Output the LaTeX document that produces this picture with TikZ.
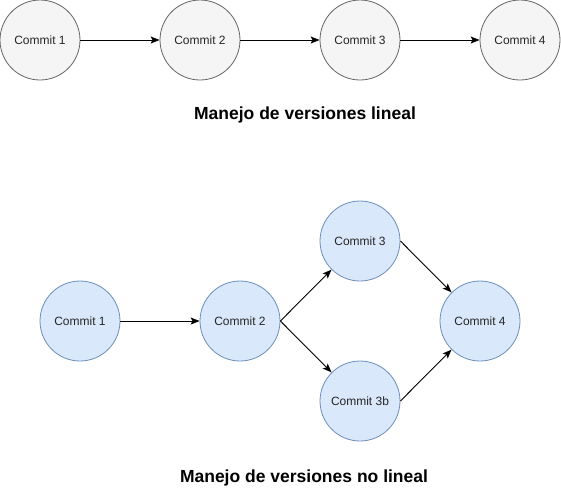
\documentclass[tikz,border=0pt]{standalone}
\usepackage{fontspec}
\setmainfont{Liberation Sans}
\usetikzlibrary{arrows.meta}
\definecolor{grayfill}{HTML}{F5F5F5}
\definecolor{graystroke}{HTML}{666666}
\definecolor{bluefill}{HTML}{DAE8FC}
\definecolor{bluestroke}{HTML}{6C8EBF}
\tikzset{
  commit/.style={circle, minimum size=80pt, inner sep=0pt, line width=0.8pt,
    font=\fontsize{12}{14}\selectfont, text=black!85},
  graycommit/.style={commit, draw=graystroke, fill=grayfill},
  bluecommit/.style={commit, draw=bluestroke, fill=bluefill},
  conn/.style={line width=0.9pt, -{Stealth[length=9pt,width=7pt,inset=2pt]}},
  caption/.style={font=\bfseries\fontsize{17.5}{20}\selectfont, inner sep=0pt}
}
\begin{document}
\begin{tikzpicture}[x=1pt,y=-1pt]
\useasboundingbox (0,0) rectangle (561,491);
\node[graycommit] (t1) at (40,40) {Commit 1};
\node[graycommit] (t2) at (200,40) {Commit 2};
\node[graycommit] (t3) at (360,40) {Commit 3};
\node[graycommit] (t4) at (520,40) {Commit 4};
\draw[conn] (t1) -- (t2);
\draw[conn] (t2) -- (t3);
\draw[conn] (t3) -- (t4);
\node[caption] (cap1) at (305,115) {Manejo de versiones lineal};

\node[bluecommit] (b1) at (80,321) {Commit 1};
\node[bluecommit] (b2) at (240,321) {Commit 2};
\node[bluecommit] (b3) at (360,241) {Commit 3};
\node[bluecommit] (b3b) at (360,401) {Commit 3b};
\node[bluecommit] (b4) at (480,321) {Commit 4};
\draw[conn] (b1) -- (b2);
\draw[conn] (b2.east) -- (b3);
\draw[conn] (b2.east) -- (b3b);
\draw[conn] (b3.east) -- (b4);
\draw[conn] (b3b.east) -- (b4);
\node[caption] (cap2) at (304,478) {Manejo de versiones no lineal};
\end{tikzpicture}
\end{document}
